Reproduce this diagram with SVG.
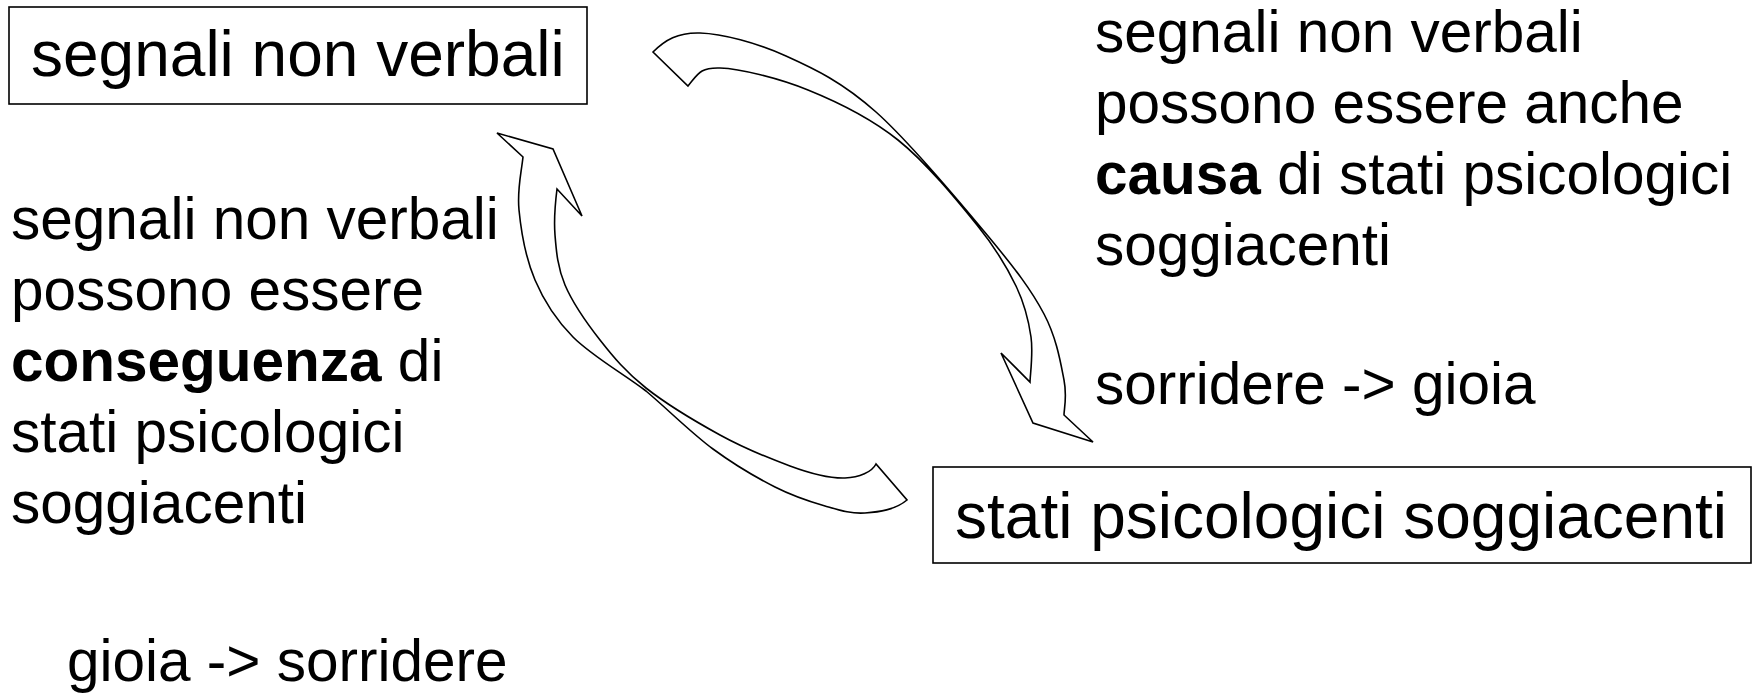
<svg xmlns="http://www.w3.org/2000/svg" width="1761" height="693" viewBox="0 0 1761 693">
<style>
text{font-family:"Liberation Sans",Arial,sans-serif;fill:#000}
.box{fill:#fff;stroke:#000;stroke-width:1.6}
.t64{font-size:64px}
.t58{font-size:58.5px}
.arr{fill:#fff;stroke:#000;stroke-width:1.6;stroke-linejoin:miter}
.b{font-weight:bold}
</style>
<rect width="1761" height="693" fill="#fff"/>
<g id="connectors">
<path id="arrow-cause" class="arr" d="M653,52 C665,40 677.8,32.3 700,33 C722.2,33.7 756.7,42.8 786,56 C815.3,69.2 842.3,82 876,112 C909.7,142 960,202.3 988,236 C1016,269.7 1031.3,290 1044,314 C1056.7,338 1060.7,363.2 1064,380 C1067.3,396.8 1064,409 1064,415 L1093,442 L1033,423 L1001,353 L1030,382 C1030.2,374.5 1033.3,353 1031,337 C1028.7,321 1025,304.7 1016,286 C1007,267.3 996.7,249.3 977,225 C957.3,200.7 926.2,162.5 898,140 C869.8,117.5 837.7,102 808,90 C778.3,78 740,68.7 720,68 C700,67.3 698,74 688,86 Z"/>
<path id="arrow-consequence" class="arr" d="M523,157 C521,175 517,189.5 519,210 C521,230.5 526,258.8 535,280 C544,301.2 554.5,318.3 573,337 C591.5,355.7 622.7,373.3 646,391 C669.3,410.7 691.5,433.2 713,449 C734.5,464.8 756.3,477.5 775,487 C793.7,496.5 810,501.7 825,506 C840,510.3 851.3,514 865,513 C878.7,512 895,510 907,500 L876,464 C872,472 859.3,477.5 845,478 C830.7,478.5 810.8,473.7 790,466 C769.2,458.3 744,448.2 720,435 C696,421.8 666,403.8 646,388 C626,372.2 613.5,357.2 600,340 C586.5,322.8 572.5,302.5 565,285 C557.5,267.5 556.3,251 555,235 C553.7,219 555,205 557,189 L582,216 L553,149 L497,133 Z"/>
</g>
<g id="node-segnali">
<rect class="box" x="9" y="7" width="578" height="97"/>
<text class="t64" x="31" y="76">segnali non verbali</text>
</g>
<g id="node-stati">
<rect class="box" x="933" y="467" width="818" height="96"/>
<text class="t64" x="955" y="538">stati psicologici soggiacenti</text>
</g>
<g id="label-consequence">
<text class="t58" x="11" y="238.5">segnali non verbali</text>
<text class="t58" x="11" y="309.5">possono essere</text>
<text class="t58" x="11" y="380.5"><tspan class="b">conseguenza</tspan> di</text>
<text class="t58" x="11" y="451.5">stati psicologici</text>
<text class="t58" x="11" y="522.5">soggiacenti</text>
</g>
<g id="label-example-left">
<text class="t58" x="67" y="681">gioia -&gt; sorridere</text>
</g>
<g id="label-cause">
<text class="t58" x="1095" y="51.5">segnali non verbali</text>
<text class="t58" x="1095" y="122.5">possono essere anche</text>
<text class="t58" x="1095" y="193.5"><tspan class="b">causa</tspan> di stati psicologici</text>
<text class="t58" x="1095" y="264.5">soggiacenti</text>
</g>
<g id="label-example-right">
<text class="t58" x="1095" y="404">sorridere -&gt; gioia</text>
</g>
</svg>
